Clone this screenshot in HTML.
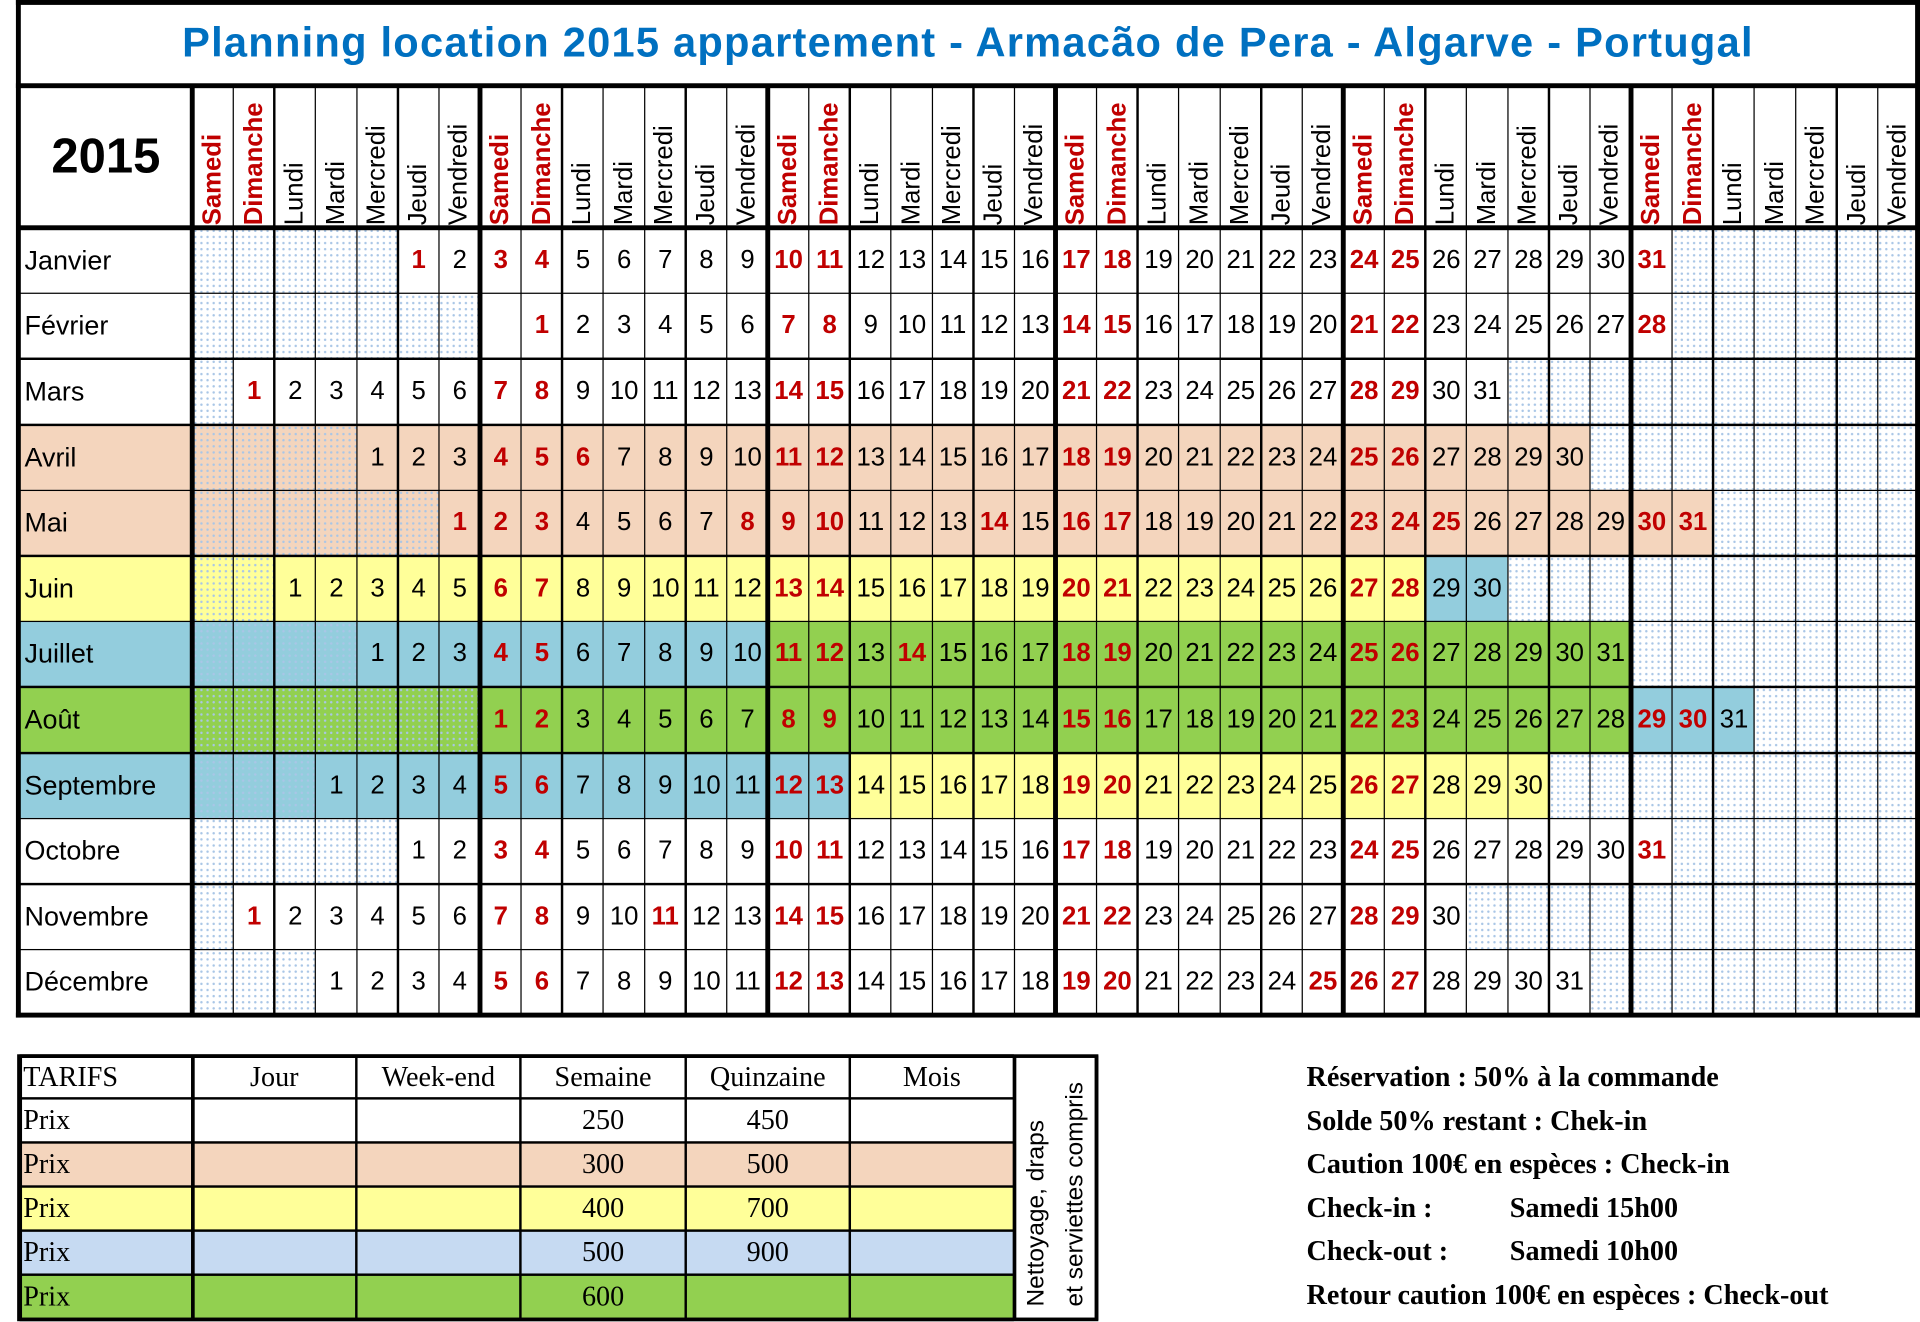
<!DOCTYPE html>
<html><head><meta charset="utf-8">
<style>
html,body{margin:0;padding:0;background:#fff;}
body{width:1920px;height:1322px;overflow:hidden;position:relative;}
#root{position:absolute;left:0;top:0;width:1568px;height:1080px;transform:scale(1.22449);transform-origin:0 0;font-family:"Liberation Sans",sans-serif;}
.a{position:absolute;box-sizing:border-box;}
.cell{display:flex;align-items:center;justify-content:center;font-size:21px;color:#000;}
.red{color:#c00000;font-weight:bold;}
.dot{background-image:radial-gradient(circle,#a9c6e6 0.8px,transparent 1.2px);background-size:5px 5px;}
.dn{position:absolute;transform:rotate(-90deg);transform-origin:0 0;white-space:nowrap;font-size:21px;}
.serif{font-family:"Liberation Serif",serif;}
</style></head><body>
<div id="root">
<div class="a" style="left:13px;top:0;width:1555px;height:70px;display:flex;align-items:center;justify-content:center;color:#0070c0;font-weight:bold;font-size:34px;letter-spacing:1px;">Planning location 2015 appartement - Armacão de Pera - Algarve - Portugal</div>
<div class="a" style="left:16px;top:70px;width:141px;height:116px;display:flex;align-items:center;justify-content:center;font-weight:bold;font-size:40px;">2015</div>

<div class="a serif" style="left:14px;top:861px;width:883px;height:218px;border:3px solid #000;"></div>

<div class="a serif" style="left:1067px;top:862px;font-weight:bold;font-size:23px;line-height:35.6px;">
<div>Réservation : 50% à la commande</div>
<div>Solde 50% restant : Chek-in</div>
<div>Caution 100€ en espèces : Check-in</div>
<div>Check-in :<span style="position:absolute;left:166px">Samedi 15h00</span></div>
<div>Check-out :<span style="position:absolute;left:166px">Samedi 10h00</span></div>
<div>Retour caution 100€ en espèces : Check-out</div>
</div>
</div>
<script>
const monthNames=["Janvier","Février","Mars","Avril","Mai","Juin","Juillet","Août","Septembre","Octobre","Novembre","Décembre"];
const offsets=[5,8,1,4,6,2,4,7,3,5,1,3];
const daysInMonth=[31,28,31,30,31,30,31,31,30,31,30,31];
const holidays=[[1],[],[],[6],[1,8,14,25],[],[14],[],[],[],[11],[25]];
const periods=[[],[],[],[[1,30,"P"]],[[1,31,"P"]],[[1,28,"Y"],[29,30,"B"]],[[1,10,"B"],[11,31,"G"]],[[1,28,"G"],[29,31,"B"]],[[1,13,"B"],[14,30,"Y"]],[],[],[]];
const dayNames=["Samedi","Dimanche","Lundi","Mardi","Mercredi","Jeudi","Vendredi"];
const tarifHeaders=["TARIFS","Jour","Week-end","Semaine","Quinzaine","Mois"];
const semaine=["250","300","400","500","600"];
const quinzaine=["450","500","700","900",""];
const tarifColors=["#ffffff","#f4d5bd","#ffff99","#c6daf2","#92d050"];

const COL={W:"#ffffff",P:"#f4d5bd",Y:"#ffff99",B:"#93cddd",G:"#92d050"};
const root=document.getElementById('root');
const X0=157,CW=33.571,Y0=186,RH=53.6,HT=70;
function colX(i){return X0+i*CW;}
function rowY(r){return Y0+r*RH;}
function add(cls,style,txt){const d=document.createElement('div');d.className=cls;d.style.cssText=style;if(txt!==undefined)d.textContent=txt;root.appendChild(d);return d;}
function colorFor(m,day){for(const p of periods[m]){if(day>=p[0]&&day<=p[1])return COL[p[2]];}return COL.W;}
for(let i=0;i<42;i++){
  const n=dayNames[i%7];
  const d=add('dn'+(i%7<2?' red':''),`left:${colX(i)+5}px;top:184px;`,n);
  
  
}
for(let m=0;m<12;m++){
  const y=rowY(m);
  const first=colorFor(m,1);
  const mc=add('a cell',`left:16px;top:${y}px;width:141px;height:${RH}px;justify-content:flex-start;padding-left:4px;font-size:22px;background:${first};`,monthNames[m]);
  
  
  for(let i=0;i<42;i++){
    const day=i-offsets[m]+1;
    const wk=i%7<2;
    let bg,txt='',cls='a cell';
    if(day>=1&&day<=daysInMonth[m]){
      bg=colorFor(m,day);txt=String(day);
      if(wk||holidays[m].includes(day))cls+=' red';
    }else{
      bg=day<1?first:COL.W;
      if(!(m===1&&i===7))cls+=' dot';
    }
    const c=add(cls,`left:${colX(i)}px;top:${y}px;width:${CW+0.5}px;height:${RH}px;background-color:${bg};`,txt);
    
    
  }
}
function line(x,y,w,h){const l=add('a',`left:${x}px;top:${y}px;width:${w}px;height:${h}px;background:#000;`);}
for(let i=0;i<=42;i++){const t=i%7===0?3.5:1.5;line(colX(i)-t/2,HT,t,rowY(12)-HT);}
for(let r=0;r<=12;r++){const t=r===0?3.5:1.8;line(14,rowY(r)-t/2,1554,t);}
line(13,HT-2,1555,4);
line(13,0,1555,4);line(13,0,4,831);line(1564,0,4,831);line(13,rowY(12)-2,1555,4);
const tx=[16,157,291,425,560,694,828],ty=[862,897,933,969,1005,1041,1077];
for(let c=0;c<6;c++){
  const h=add('a cell serif',`left:${tx[c]}px;top:${ty[0]}px;width:${tx[c+1]-tx[c]}px;height:${ty[1]-ty[0]}px;font-size:23px;`+(c===0?'justify-content:flex-start;padding-left:3px;':''),tarifHeaders[c]);
  
  
}
for(let r=0;r<5;r++){
  for(let c=0;c<6;c++){
    let t=c===0?'Prix':c===3?semaine[r]:c===4?quinzaine[r]:'';
    const d=add('a cell serif',`left:${tx[c]}px;top:${ty[r+1]}px;width:${tx[c+1]-tx[c]}px;height:${ty[r+2]-ty[r+1]}px;background:${tarifColors[r]};font-size:23px;`+(c===0?'justify-content:flex-start;padding-left:3px;':''),t);
    
    
  }
}
for(let c=0;c<=7;c++){const x=c===7?895:tx[c];const t=(c===1||c===6||c===0||c===7)?3:2;line(x-t/2,862,t,216);}
for(let r=0;r<=6;r++){const t=(r===0||r===6)?3:2.5;line(tx[0],ty[r]-t/2,812,t);}
const note=add('a',`left:${828}px;top:${1077}px;transform:rotate(-90deg);transform-origin:0 0;width:215px;height:67px;font-size:20px;line-height:32px;display:flex;flex-direction:column;justify-content:center;padding-left:10px;`,'');
note.innerHTML='<div>Nettoyage, draps</div><div>et serviettes compris</div>';


</script>
</body></html>
